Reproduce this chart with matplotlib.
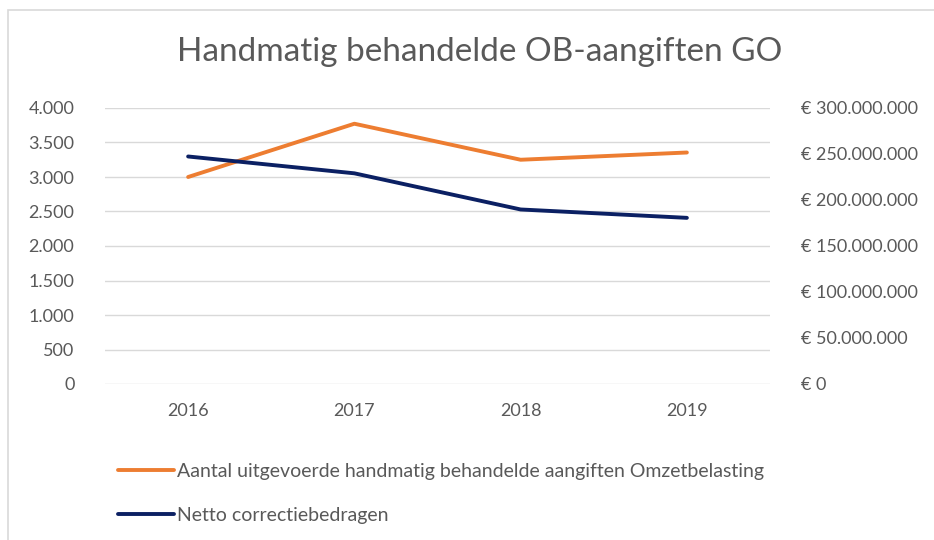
import matplotlib.pyplot as plt
from matplotlib.patches import Rectangle
from matplotlib.ticker import FuncFormatter

years = ["2016", "2017", "2018", "2019"]
aangiften = [3000, 3772, 3250, 3355]
correctie = [247300000, 229000000, 189700000, 180600000]

orange = "#ED7D31"
navy = "#0B2063"
grey = "#595959"

plt.rcParams["font.family"] = ["Lato", "DejaVu Sans"]

fig = plt.figure(figsize=(9.34, 5.40), dpi=100)
ax = fig.add_axes([105 / 934, 1 - 384 / 540, 665 / 934, 276 / 540])
ax2 = ax.twinx()

x = range(len(years))
l1, = ax.plot(x, aangiften, color=orange, lw=2.8, solid_capstyle="round",
              label="Aantal uitgevoerde handmatig behandelde aangiften Omzetbelasting")
l2, = ax2.plot(x, correctie, color=navy, lw=2.8, solid_capstyle="round",
               label="Netto correctiebedragen")

ax.set_xlim(-0.5, 3.5)
ax.set_ylim(0, 4000)
ax.set_yticks(range(0, 4001, 500))
ax2.set_ylim(0, 300000000)
ax2.set_yticks(range(0, 300000001, 50000000))

dots = lambda v: f"{int(v):,}".replace(",", ".")
ax.yaxis.set_major_formatter(FuncFormatter(lambda v, p: dots(v)))
ax2.yaxis.set_major_formatter(FuncFormatter(lambda v, p: "€ " + dots(v)))

ax.set_xticks(list(x))
ax.set_xticklabels(years)
ax.grid(axis="y", color="#D9D9D9", lw=1)
ax.set_axisbelow(True)
for a in (ax, ax2):
    for s in a.spines.values():
        s.set_visible(False)
    a.tick_params(length=0, colors=grey, labelsize=13)
ax.tick_params(axis="y", pad=22)
ax2.tick_params(axis="y", pad=22)
ax.tick_params(axis="x", pad=14)
for lab in ax2.get_yticklabels():
    lab.set_horizontalalignment("left")

fig.text(480 / 934, 1 - 52 / 540, "Handmatig behandelde OB-aangiften GO",
         ha="center", va="center", fontsize=24, color=grey)

fig.legend(handles=[l1, l2], loc="upper left", bbox_to_anchor=(110 / 934, 1 - 455 / 540),
           frameon=False, fontsize=14, handlelength=2.9, handletextpad=0.15,
           labelspacing=1.4, labelcolor=grey, borderaxespad=0)

fig.patches.append(Rectangle((8 / 934, -0.1), 1.1, 1 - 10 / 540 + 0.1,
                             transform=fig.transFigure, fill=False,
                             edgecolor="#D9D9D9", lw=1.2))

fig.savefig("out.png", dpi=100)
